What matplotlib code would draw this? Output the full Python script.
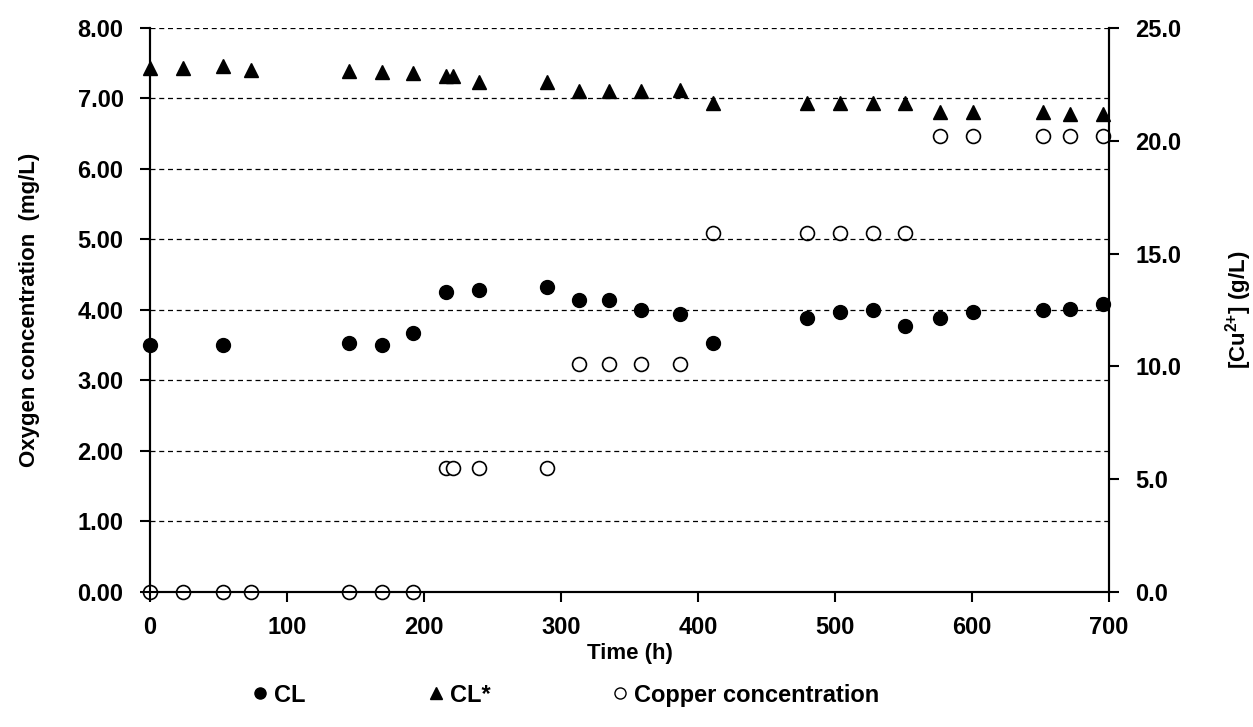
import matplotlib.pyplot as plt
from matplotlib.lines import Line2D

plt.rcParams['font.family'] = ['Liberation Sans', 'DejaVu Sans']
plt.rcParams['font.weight'] = 'bold'
plt.rcParams['mathtext.fontset'] = 'custom'
plt.rcParams['mathtext.rm'] = 'Liberation Sans:bold'
plt.rcParams['mathtext.it'] = 'Liberation Sans:bold'
plt.rcParams['mathtext.bf'] = 'Liberation Sans:bold'

# Data
t_cl = [0, 53.6, 145, 169.6, 192, 216.4, 240.3, 289.5, 313, 335, 358.7, 386.5,
        410.6, 479.3, 503.4, 527.5, 551.4, 576.5, 601, 651.8, 671.8, 695.7]
cl = [3.51, 3.51, 3.53, 3.51, 3.68, 4.25, 4.29, 4.33, 4.14, 4.14, 4.00, 3.95,
      3.53, 3.88, 3.97, 4.00, 3.77, 3.88, 3.97, 4.00, 4.01, 4.08]

t_cls = [0, 24.4, 53.6, 73.6, 145, 169.6, 192, 216.4, 221, 240.3, 289.5, 313,
         335, 358.7, 386.5, 410.6, 479.3, 503.4, 527.5, 551.4, 576.5, 601,
         651.8, 671.8, 695.7]
cls = [7.43, 7.43, 7.46, 7.40, 7.39, 7.37, 7.36, 7.32, 7.32, 7.23, 7.23, 7.10,
       7.10, 7.11, 7.12, 6.94, 6.94, 6.94, 6.93, 6.94, 6.81, 6.81,
       6.81, 6.78, 6.78]

t_cu = [0, 24.4, 53.6, 73.6, 145, 169.6, 192, 216.4, 221, 240.3, 289.5, 313,
        335, 358.7, 386.5, 410.6, 479.3, 503.4, 527.5, 551.4, 576.5, 601,
        651.8, 671.8, 695.7]
cu = [0, 0, 0, 0, 0, 0, 0, 5.5, 5.5, 5.5, 5.5, 10.1,
      10.1, 10.1, 10.1, 15.9, 15.9, 15.9, 15.9, 15.9, 20.2, 20.2,
      20.2, 20.2, 20.2]

fig = plt.figure(figsize=(12.53, 7.27), dpi=100)
ax = fig.add_axes([0.1197, 0.1857, 0.7654, 0.7758])
ax2 = ax.twinx()

ax.plot(t_cl, cl, 'o', color='black', markersize=10, clip_on=False, zorder=4)
ax.plot(t_cls, cls, '^', color='black', markersize=10, clip_on=False, zorder=4)
ax2.plot(t_cu, cu, 'o', markerfacecolor='white', markeredgecolor='black',
         markeredgewidth=1.2, markersize=10, clip_on=False, zorder=3)

ax.set_xlim(0, 700)
ax.set_ylim(0, 8)
ax2.set_ylim(0, 25)
ax.set_xticks(range(0, 701, 100))
ax.set_yticks([i for i in range(0, 9)])
ax.set_yticklabels([f'{i:.2f}' for i in range(0, 9)])
ax2.set_yticks([0, 5, 10, 15, 20, 25])
ax2.set_yticklabels([f'{v:.1f}' for v in [0, 5, 10, 15, 20, 25]])

ax.grid(axis='y', linestyle=(0, (4, 3)), color='black', linewidth=0.9)
ax.set_axisbelow(True)
ax2.set_zorder(ax.get_zorder() - 1)
ax.patch.set_visible(False)

for a in (ax, ax2):
    a.spines['top'].set_visible(False)
    for s in a.spines.values():
        s.set_linewidth(1.5)
    a.tick_params(direction='out', length=7, width=1.5, labelsize=17)
ax.tick_params(axis='y', pad=12)
ax.tick_params(axis='x', pad=10)
ax2.tick_params(axis='y', pad=12)

ax.set_xlabel('Time (h)', fontsize=16, fontweight='bold', labelpad=3)
ax.set_ylabel('Oxygen concentration  (mg/L)', fontsize=16, fontweight='bold', labelpad=27)
ax2.set_ylabel(r'[Cu$^{2{+}}$] (g/L)', fontsize=16, fontweight='bold', labelpad=30)

handles = [
    Line2D([], [], linestyle='none', marker='o', color='black', markersize=8),
    Line2D([], [], linestyle='none', marker='^', color='black', markersize=8),
    Line2D([], [], linestyle='none', marker='o', markerfacecolor='white',
           markeredgecolor='black', markersize=8),
]
fig.legend(handles, ['CL', 'CL*', 'Copper concentration'], loc='center left',
           bbox_to_anchor=(0.185, 0.044), ncol=3, frameon=False,
           prop={'size': 17, 'weight': 'bold'}, handlelength=0.6,
           handletextpad=0.3, columnspacing=5.2)

fig.savefig('out.png', dpi=100)
